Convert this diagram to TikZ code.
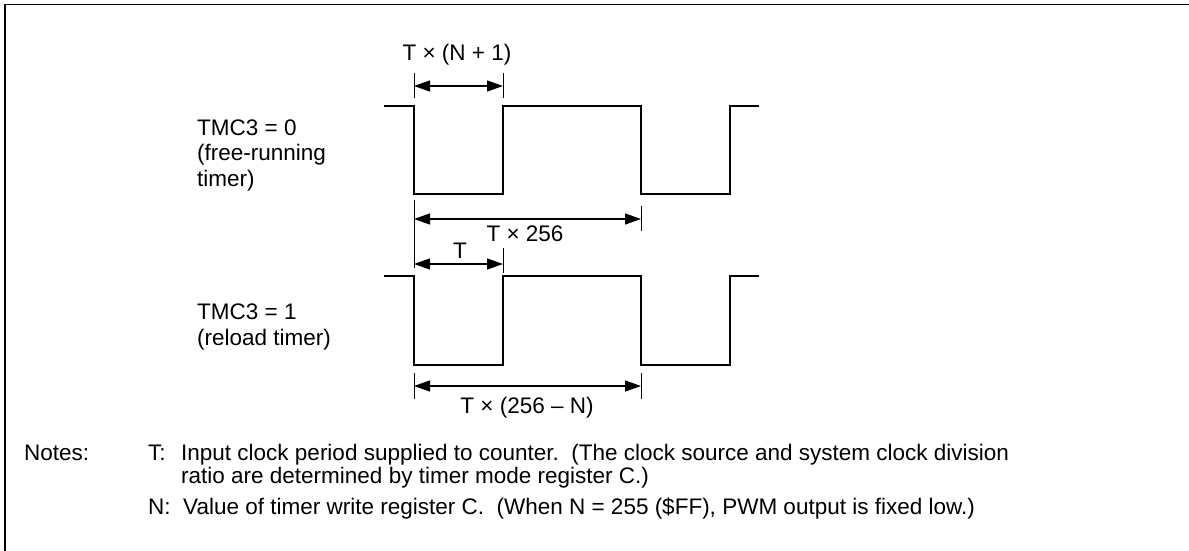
\documentclass[tikz,border=0pt]{standalone}
\usepackage{fontspec}
\setmainfont{Liberation Sans}
\usetikzlibrary{arrows.meta, positioning}

\begin{document}
\begin{tikzpicture}[
  x=1pt, y=-1pt,
  font=\fontsize{22.5}{25.5}\selectfont,
  wave/.style={line width=1.6pt, line join=miter},
  dim/.style={line width=1.2pt,
              {Triangle[length=16pt,width=11pt]}-{Triangle[length=16pt,width=11pt]}},
  ext/.style={line width=1pt},
  lbl/.style={inner sep=0pt, anchor=base},
  txt/.style={inner sep=0pt, anchor=base west, align=left}
]
  \useasboundingbox (0,0) rectangle (1189,551);

  % frame, top and left edge
  \draw[line width=1.6pt] (5,551) -- (5,4.5) -- (1189,4.5);

  % mode labels (base = last line)
  \node[txt] (mode0) at (197,186) {TMC3 = 0\\(free-running\\timer)};
  \node[txt] (mode1) at (197,345) {TMC3 = 1\\(reload timer)};

  % free-running waveform
  \draw[wave] (384,106) -- (414,106) -- (414,194) -- (503,194) -- (503,106)
              -- (641,106) -- (641,194) -- (730,194) -- (730,106) -- (759,106);

  % reload waveform
  \draw[wave] (384,276) -- (414,276) -- (414,365) -- (503,365) -- (503,276)
              -- (641,276) -- (641,365) -- (730,365) -- (730,276) -- (759,276);

  % extension lines
  \draw[ext] (414,73) -- (414,98);
  \draw[ext] (503,73) -- (503,98);
  \draw[ext] (414,200) -- (414,268);
  \draw[ext] (641,206) -- (641,231);
  \draw[ext] (503,248) -- (503,273);
  \draw[ext] (414,373) -- (414,399);
  \draw[ext] (641,373) -- (641,399);

  % dimension arrows
  \coordinate (pwl) at (414,86);   \coordinate (pwr) at (503,86);
  \coordinate (frl) at (414,219);  \coordinate (frr) at (641,219);
  \coordinate (tl)  at (414,264);  \coordinate (tr)  at (503,264);
  \coordinate (rll) at (414,386);  \coordinate (rlr) at (641,386);
  \draw[dim] (pwl) -- (pwr);
  \draw[dim] (frl) -- (frr);
  \draw[dim] (tl)  -- (tr);
  \draw[dim] (rll) -- (rlr);

  \node[lbl] (lblpw) at (457,60)  {T × (N + 1)};
  \node[lbl] (lblfr) at (525,241) {T × 256};
  \node[lbl] (lblt)  at (460,258) {T};
  \node[lbl] (lblrl) at (527,413) {T × (256 – N)};

  % notes
  \node[txt] (notes) at (24,460)  {Notes:};
  \node[txt] (tkey)  at (148,460) {T:};
  \node[txt, font=\fontsize{22.5}{23}\selectfont] (tnote) at (181,483)
    {Input clock period supplied to counter.\ \ (The clock source and system clock division\\
     ratio are determined by timer mode register C.)};
  \node[txt] (nkey)  at (148,514) {N:};
  \node[txt] (nnote) at (183,514)
    {Value of timer write register C.\ \ (When N = 255 (\$FF), PWM output is fixed low.)};
\end{tikzpicture}
\end{document}
